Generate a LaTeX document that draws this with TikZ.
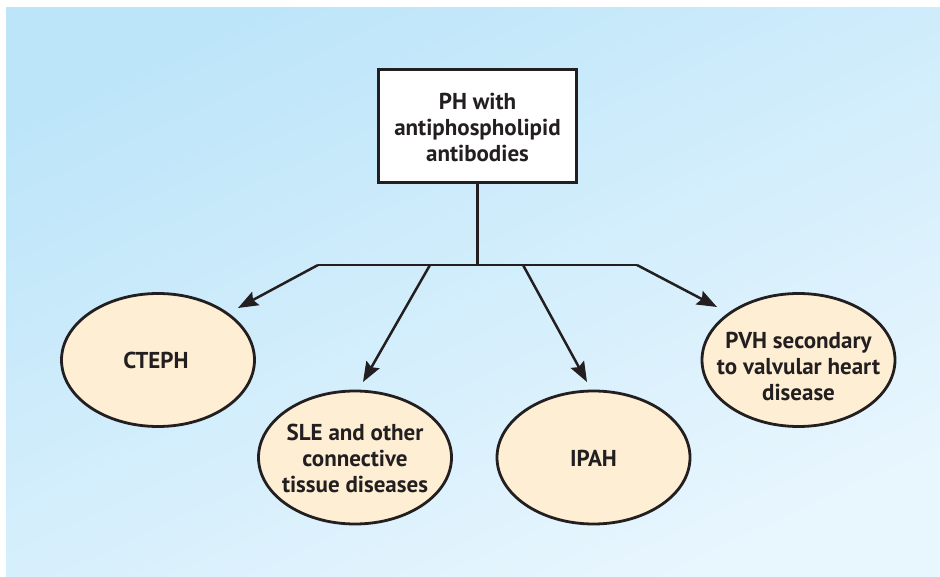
\documentclass[tikz,border=0pt]{standalone}
\usepackage{fontspec}
\setmainfont{PT Sans}
\usetikzlibrary{shapes.geometric,arrows.meta}
\definecolor{ink}{RGB}{35,31,32}
\definecolor{bgA}{RGB}{189,229,249}
\definecolor{bgB}{RGB}{232,246,254}
\definecolor{cream}{RGB}{254,239,212}
\tikzset{
  lbl/.style={font=\fontsize{23}{26}\selectfont\bfseries, text=ink, align=center, inner sep=0pt},
  topbox/.style={draw=ink, line width=3.2pt, fill=white, minimum width=198pt, minimum height=113pt, inner sep=0pt},
  oval/.style={ellipse, draw=ink, line width=2.8pt, fill=cream, minimum width=193pt, minimum height=133pt, inner sep=0pt},
  conn/.style={draw=ink, line width=2.5pt},
  arr/.style={conn, -{Stealth[length=20pt,width=15pt,inset=3pt]}},
}
\begin{document}
\begin{tikzpicture}[x=1pt,y=-1pt]
\useasboundingbox (0,0) rectangle (940,577);
\shade[top color=bgA, bottom color=bgB, shading angle=25] (6,8) rectangle (940,576);

\node[topbox] (top) at (477.5,126) {};
\node[lbl] (toptext) at (477.5,127) {PH with\\antiphospholipid\\antibodies};

\node[oval] (cteph) at (158,360) {};
\node[oval] (sle) at (355,457.5) {};
\node[oval] (ipah) at (593.5,457.5) {};
\node[oval] (pvh) at (798.5,360) {};

\node[lbl] (ctephtext) at (156,360) {CTEPH};
\node[lbl] (sletext) at (355,458) {SLE and other\\connective\\tissue diseases};
\node[lbl] (ipahtext) at (593.5,458) {IPAH};
\node[lbl] (pvhtext) at (798.5,366) {PVH secondary\\to valvular heart\\disease};

\coordinate (hub) at (477.5,265);
\coordinate (bl) at (318,265);
\coordinate (br) at (637,265);
\coordinate (b2) at (430,265);
\coordinate (b3) at (523,265);
\coordinate (t1) at (238,308);
\coordinate (t2) at (363,382);
\coordinate (t3) at (587,382);
\coordinate (t4) at (717,307);

\draw[conn] (top.south) -- (hub);
\draw[conn] (bl) -- (br);
\draw[arr] (bl) -- (t1);
\draw[arr] (b2) -- (t2);
\draw[arr] (b3) -- (t3);
\draw[arr] (br) -- (t4);
\end{tikzpicture}
\end{document}
